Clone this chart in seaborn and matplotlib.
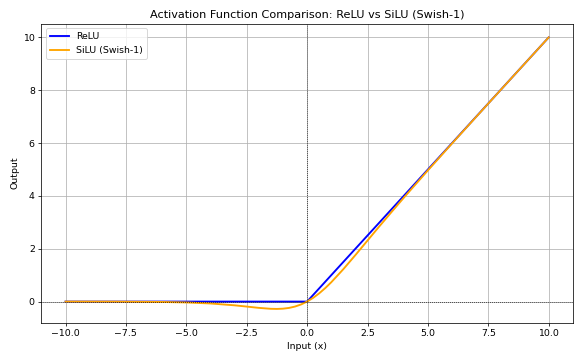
import matplotlib
matplotlib.use("Agg")
import matplotlib.pyplot as plt
import seaborn as sns
import pandas as pd

relu_x = [-10.0, 0.0, 10.0]
relu_y = [0.0, 0.0, 10.0]

silu_x = [-10, -8, -6, -5, -4, -3, -2.5, -2, -1.5, -1.25, -1, -0.75, -0.5, -0.25,
          0, 0.25, 0.5, 0.75, 1, 1.5, 2, 2.5, 3, 3.5, 4, 5, 6, 7, 8, 10]
silu_y = [-0.0005, -0.0027, -0.0148, -0.0335, -0.0719, -0.1423, -0.1896, -0.2384,
          -0.2736, -0.2784, -0.2689, -0.2406, -0.1888, -0.1094,
          0.0, 0.1406, 0.3112, 0.5094, 0.7311, 1.2264, 1.7616, 2.3104, 2.8577,
          3.3955, 3.9281, 4.9665, 5.9852, 6.9936, 7.9973, 9.9995]

title = "Activation Function Comparison: ReLU vs SiLU (Swish-1)"

df_relu = pd.DataFrame({"x": relu_x, "y": relu_y})
df_silu = pd.DataFrame({"x": silu_x, "y": silu_y})

dpi = 67.7
fig, ax = plt.subplots(figsize=(583 / dpi, 361 / dpi), dpi=dpi)

sns.lineplot(data=df_relu, x="x", y="y", ax=ax, color="blue", linewidth=2, label="ReLU")
sns.lineplot(data=df_silu, x="x", y="y", ax=ax, color="orange", linewidth=2, label="SiLU (Swish-1)")

ax.axhline(0, color="black", linewidth=0.8, linestyle=":")
ax.axvline(0, color="black", linewidth=0.8, linestyle=":")

ax.set_title(title, fontsize=12)
ax.set_xlabel("Input (x)", fontsize=10)
ax.set_ylabel("Output", fontsize=10)
ax.grid(True)
ax.legend(loc="upper left")

fig.tight_layout()
fig.savefig("out.png", dpi=dpi)
